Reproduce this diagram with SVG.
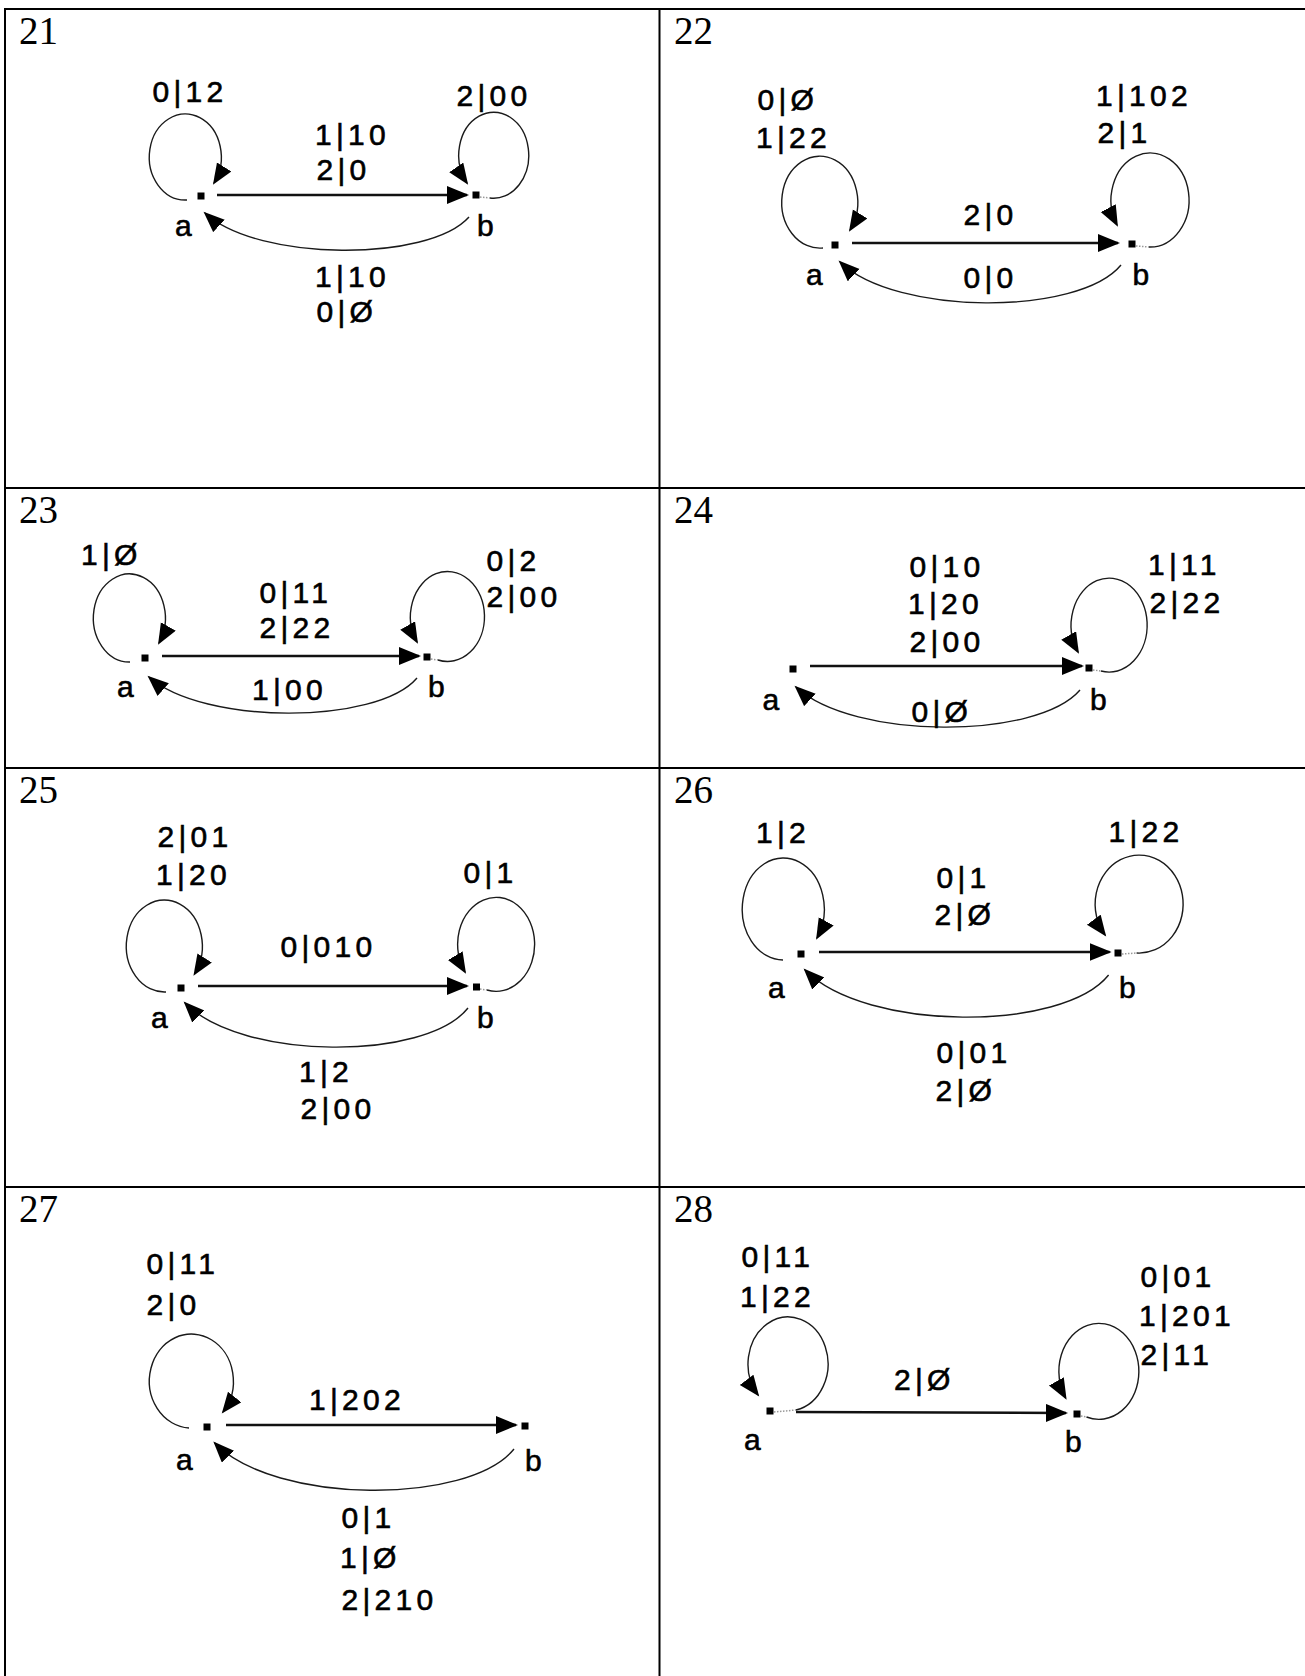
<svg xmlns="http://www.w3.org/2000/svg" width="1305" height="1676" viewBox="0 0 1305 1676">
<style>
.frame{stroke:#000;stroke-width:2;fill:none}
.edge{stroke:#1a1a1a;stroke-width:1.4;fill:none}
.main{stroke:#111;stroke-width:2.4;fill:none}
.tail{stroke:#999;stroke-width:1.5;stroke-dasharray:1.5 1.5;fill:none}
.node{fill:#000}
.lbl{font-family:"Liberation Sans",Arial,sans-serif;font-size:30px;letter-spacing:4.3px;fill:#000;stroke:#000;stroke-width:0.6}
.nl{font-family:"Liberation Sans",Arial,sans-serif;font-size:30px;fill:#000;stroke:#000;stroke-width:0.6}
.num{font-family:"Liberation Serif","Times New Roman",serif;font-size:39px;fill:#000}
</style>
<defs>
<marker id="hs" markerUnits="userSpaceOnUse" markerWidth="24" markerHeight="20" refX="20" refY="9" orient="auto"><path d="M0,0 L22,9 L0,18 z" fill="#000"/></marker>
<marker id="hc" markerUnits="userSpaceOnUse" markerWidth="24" markerHeight="20" refX="19" refY="8.5" orient="auto"><path d="M0,0 L21,8.5 L0,17 z" fill="#000"/></marker>
</defs>
<rect width="1305" height="1676" fill="#fff"/>
<g id="table">
<path class="frame" d="M4,9 H1305 M5,8 V1676 M659.5,9 V1676 M5,488 H1305 M5,768 H1305 M5,1187 H1305"/>
</g>

<g id="panel21">
<text class="num" x="19" y="44">21</text>
<g id="p21-connectors">
<path class="main" d="M217,195 H467" marker-end="url(#hs)"/>
<path class="edge" d="M187,200 A36,43 0 1,1 214,183" marker-end="url(#hc)"/>
<path class="tail" d="M480,197 L490,198"/>
<path class="edge" d="M490,198 A35,43 0 1,0 467,183" marker-end="url(#hc)"/>
<path class="edge" d="M469,217 C429,262 258,262 205,213" marker-end="url(#hc)"/>
<text class="lbl" x="152.5" y="102">0|12</text>
<text class="lbl" x="456.5" y="106">2|00</text>
<text class="lbl" x="315" y="145">1|10</text>
<text class="lbl" x="316.5" y="180">2|0</text>
<text class="lbl" x="315" y="287">1|10</text>
<text class="lbl" x="316.5" y="322">0|Ø</text>
</g>
<g id="p21-a"><rect class="node" x="197.5" y="192.5" width="7" height="7"/><text class="nl" x="175" y="236">a</text></g>
<g id="p21-b"><rect class="node" x="472.5" y="191.5" width="7" height="7"/><text class="nl" x="477" y="236">b</text></g>
</g>

<g id="panel22">
<text class="num" x="674" y="44">22</text>
<g id="p22-connectors">
<path class="main" d="M852,243 H1118" marker-end="url(#hs)"/>
<path class="edge" d="M823,248 A38,46 0 1,1 850,230" marker-end="url(#hc)"/>
<path class="tail" d="M1136,246 L1149,247"/>
<path class="edge" d="M1149,247 A39,47 0 1,0 1117,225" marker-end="url(#hc)"/>
<path class="edge" d="M1121,265 C1079,316 896,316 840,262" marker-end="url(#hc)"/>
<text class="lbl" x="757.5" y="110">0|Ø</text>
<text class="lbl" x="756" y="148">1|22</text>
<text class="lbl" x="1096" y="106">1|102</text>
<text class="lbl" x="1097.5" y="143">2|1</text>
<text class="lbl" x="963.5" y="225">2|0</text>
<text class="lbl" x="963.5" y="288">0|0</text>
</g>
<g id="p22-a"><rect class="node" x="831.5" y="241.5" width="7" height="7"/><text class="nl" x="806" y="285">a</text></g>
<g id="p22-b"><rect class="node" x="1128.5" y="240.5" width="7" height="7"/><text class="nl" x="1132.5" y="285">b</text></g>
</g>

<g id="panel23">
<text class="num" x="19" y="523">23</text>
<g id="p23-connectors">
<path class="main" d="M162,656 H419" marker-end="url(#hs)"/>
<path class="edge" d="M130,662 A36,44 0 1,1 159,643" marker-end="url(#hc)"/>
<path class="tail" d="M431,659 L438,660"/>
<path class="edge" d="M438,660 A37,45 0 1,0 417,642" marker-end="url(#hc)"/>
<path class="edge" d="M417,678 C377,725 203,725 149,677" marker-end="url(#hc)"/>
<text class="lbl" x="81" y="565">1|Ø</text>
<text class="lbl" x="486.5" y="571">0|2</text>
<text class="lbl" x="486.5" y="607">2|00</text>
<text class="lbl" x="259.5" y="603">0|11</text>
<text class="lbl" x="259.5" y="638">2|22</text>
<text class="lbl" x="252" y="700">1|00</text>
</g>
<g id="p23-a"><rect class="node" x="141.5" y="654.5" width="7" height="7"/><text class="nl" x="117" y="697">a</text></g>
<g id="p23-b"><rect class="node" x="423.5" y="653.5" width="7" height="7"/><text class="nl" x="428" y="697">b</text></g>
</g>

<g id="panel24">
<text class="num" x="674" y="523">24</text>
<g id="p24-connectors">
<path class="main" d="M810,666 H1082" marker-end="url(#hs)"/>
<path class="tail" d="M1093,670 L1101,671"/>
<path class="edge" d="M1101,671 A38,47 0 1,0 1078,652" marker-end="url(#hc)"/>
<path class="edge" d="M1080,690 C1037,740 853,740 796,687" marker-end="url(#hc)"/>
<text class="lbl" x="909.5" y="577">0|10</text>
<text class="lbl" x="908" y="614">1|20</text>
<text class="lbl" x="909.5" y="652">2|00</text>
<text class="lbl" x="1148" y="575">1|11</text>
<text class="lbl" x="1149.5" y="613">2|22</text>
<text class="lbl" x="911.5" y="722">0|Ø</text>
</g>
<g id="p24-a"><rect class="node" x="789.5" y="665.5" width="7" height="7"/><text class="nl" x="762.5" y="710">a</text></g>
<g id="p24-b"><rect class="node" x="1085.5" y="664.5" width="7" height="7"/><text class="nl" x="1090" y="710">b</text></g>
</g>

<g id="panel25">
<text class="num" x="19" y="803">25</text>
<g id="p25-connectors">
<path class="main" d="M198,986 H467" marker-end="url(#hs)"/>
<path class="edge" d="M166,992 A38,46 0 1,1 194.5,974" marker-end="url(#hc)"/>
<path class="tail" d="M480,989 L487,990"/>
<path class="edge" d="M487,990 A38.5,47 0 1,0 465,972" marker-end="url(#hc)"/>
<path class="edge" d="M468,1008 C426,1061 242,1061 185,1003" marker-end="url(#hc)"/>
<text class="lbl" x="157.5" y="847">2|01</text>
<text class="lbl" x="156" y="885">1|20</text>
<text class="lbl" x="463.5" y="883">0|1</text>
<text class="lbl" x="280.5" y="957">0|010</text>
<text class="lbl" x="299" y="1082">1|2</text>
<text class="lbl" x="300.5" y="1119">2|00</text>
</g>
<g id="p25-a"><rect class="node" x="177.5" y="984.5" width="7" height="7"/><text class="nl" x="151" y="1028">a</text></g>
<g id="p25-b"><rect class="node" x="473" y="983.5" width="7" height="7"/><text class="nl" x="477" y="1028">b</text></g>
</g>

<g id="panel26">
<text class="num" x="674" y="803">26</text>
<g id="p26-connectors">
<path class="main" d="M819,952 H1109.6" marker-end="url(#hs)"/>
<path class="edge" d="M783,960 A41,51 0 1,1 817,938" marker-end="url(#hc)"/>
<path class="tail" d="M1122,954 L1136.6,953"/>
<path class="edge" d="M1136.6,953 A44,49 0 1,0 1105,935" marker-end="url(#hc)"/>
<path class="edge" d="M1108.6,975 C1063,1032 866,1032 805,970" marker-end="url(#hc)"/>
<text class="lbl" x="756" y="843">1|2</text>
<text class="lbl" x="1108.5" y="842">1|22</text>
<text class="lbl" x="936.5" y="888">0|1</text>
<text class="lbl" x="934.5" y="925">2|Ø</text>
<text class="lbl" x="936.5" y="1063">0|01</text>
<text class="lbl" x="935.5" y="1101">2|Ø</text>
</g>
<g id="p26-a"><rect class="node" x="797.5" y="950.5" width="7" height="7"/><text class="nl" x="768" y="998">a</text></g>
<g id="p26-b"><rect class="node" x="1114.5" y="949.5" width="7" height="7"/><text class="nl" x="1119" y="998">b</text></g>
</g>

<g id="panel27">
<text class="num" x="19" y="1222">27</text>
<g id="p27-connectors">
<path class="main" d="M226,1425 H516" marker-end="url(#hs)"/>
<path class="edge" d="M189,1428 A42,47 0 1,1 223,1412" marker-end="url(#hc)"/>
<path class="edge" d="M514,1449 C469,1505 275,1505 214.7,1443" marker-end="url(#hc)"/>
<text class="lbl" x="146.5" y="1274">0|11</text>
<text class="lbl" x="146.5" y="1315">2|0</text>
<text class="lbl" x="309" y="1410">1|202</text>
<text class="lbl" x="341.5" y="1528">0|1</text>
<text class="lbl" x="340" y="1568">1|Ø</text>
<text class="lbl" x="341.5" y="1610">2|210</text>
</g>
<g id="p27-a"><rect class="node" x="203.5" y="1423.5" width="7" height="7"/><text class="nl" x="176" y="1470">a</text></g>
<g id="p27-b"><rect class="node" x="521.5" y="1422.5" width="7" height="7"/><text class="nl" x="525" y="1471">b</text></g>
</g>

<g id="panel28">
<text class="num" x="674" y="1222">28</text>
<g id="p28-connectors">
<path class="main" d="M796,1412 L1066,1413" marker-end="url(#hs)"/>
<path class="tail" d="M774,1412 L796,1410"/>
<path class="edge" d="M796,1410 A40,47 0 1,0 758,1395" marker-end="url(#hc)"/>
<path class="tail" d="M1081,1416 L1086.5,1417"/>
<path class="edge" d="M1086.5,1417 A40,48 0 1,0 1065.6,1398" marker-end="url(#hc)"/>
<text class="lbl" x="741.5" y="1267">0|11</text>
<text class="lbl" x="740" y="1307">1|22</text>
<text class="lbl" x="1140.5" y="1287">0|01</text>
<text class="lbl" x="1139" y="1326">1|201</text>
<text class="lbl" x="1140.5" y="1365">2|11</text>
<text class="lbl" x="894" y="1390">2|Ø</text>
</g>
<g id="p28-a"><rect class="node" x="766.5" y="1407.5" width="7" height="7"/><text class="nl" x="744" y="1450">a</text></g>
<g id="p28-b"><rect class="node" x="1073.5" y="1410.5" width="7" height="7"/><text class="nl" x="1065" y="1452">b</text></g>
</g>
</svg>
